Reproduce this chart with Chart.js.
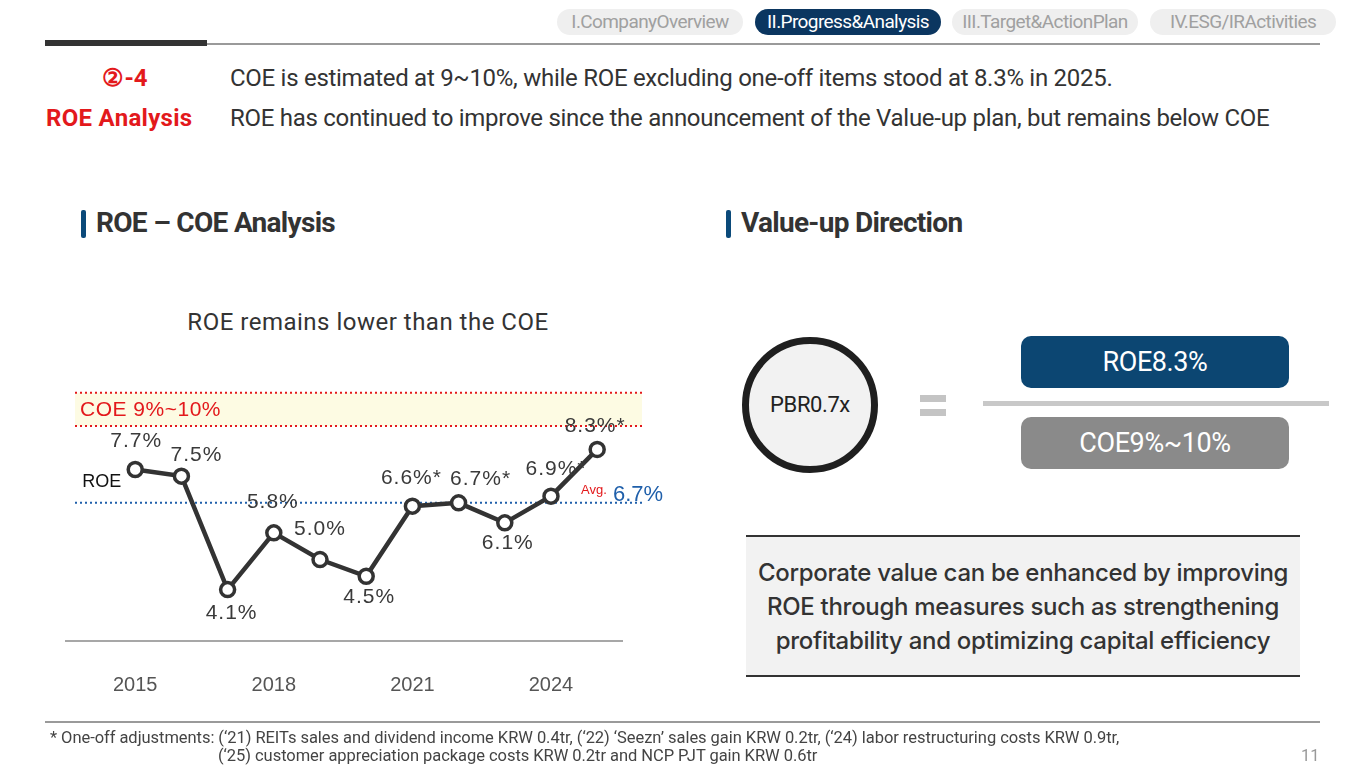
<!DOCTYPE html>
<html>
<head>
<meta charset="utf-8">
<script src="https://cdn.jsdelivr.net/npm/chart.js@4"></script>
<style>
  body { margin: 0; width: 1365px; height: 768px; background: #fff; position: relative; overflow: hidden; font-family: Roboto, "Noto Sans", sans-serif; color: #333; }
  .abs { position: absolute; }
  .pill { position: absolute; top: 9px; height: 26px; width: 186px; border-radius: 13px; background: #efefef; color: #a0a0a0; font-size: 19px; line-height: 26px; text-align: center; letter-spacing: -0.6px; white-space: nowrap; }
  .pill.on { background: #0b3660; color: #fff; }
  .head { font-size: 24px; letter-spacing: -0.28px; color: #333; white-space: nowrap; }
  .red { color: #e3191c; font-weight: 700; }
  .sec { font-size: 28px; font-weight: 700; letter-spacing: -0.7px; color: #333; white-space: nowrap; }
  .secbar { width: 5px; height: 28px; background: #0b4a7a; border-radius: 2px; }
  .box { border-radius: 10px; color: #fff; font-size: 27px; letter-spacing: -0.4px; text-align: center; line-height: 52px; width: 268px; height: 52px; left: 1021px; }
  .note { font-size: 16.5px; color: #444; white-space: nowrap; letter-spacing: -0.05px; }
</style>
</head>
<body>

<div class="pill" style="left:557px">I.CompanyOverview</div>
<div class="pill on" style="left:755px">II.Progress&amp;Analysis</div>
<div class="pill" style="left:952px">III.Target&amp;ActionPlan</div>
<div class="pill" style="left:1150px">IV.ESG/IRActivities</div>

<div class="abs" style="left:207px; top:43px; width:1113px; height:2px; background:#9a9a9a"></div>
<div class="abs" style="left:45px; top:40px; width:162px; height:6px; background:#333"></div>

<div class="abs red" style="left:80px; top:64px; width:90px; text-align:center; font-size:24px">②-4</div>
<div class="abs red" style="left:46px; top:104px; font-size:24px; letter-spacing:0.3px">ROE Analysis</div>
<div class="abs head" style="left:230px; top:64px">COE is estimated at 9~10%, while ROE excluding one-off items stood at 8.3% in 2025.</div>
<div class="abs head" style="left:230px; top:104px">ROE has continued to improve since the announcement of the Value-up plan, but remains below COE</div>

<div class="abs secbar" style="left:81px; top:210px"></div>
<div class="abs sec" style="left:96px; top:206px">ROE – COE Analysis</div>
<div class="abs secbar" style="left:726px; top:210px"></div>
<div class="abs sec" style="left:741px; top:206px">Value-up Direction</div>

<div class="abs" style="left:118px; top:308px; width:500px; text-align:center; font-size:24px; letter-spacing:0.5px; color:#333">ROE remains lower than the COE</div>

<canvas id="roeChart" class="abs" width="700" height="400" style="left:0; top:340px"></canvas>

<!-- Value-up direction -->
<div class="abs" style="left:742px; top:337px; width:122px; height:122px; border:7px solid #1f1f1f; border-radius:50%; background:#f2f2f2; text-align:center; line-height:122px; font-size:22px; letter-spacing:-0.4px; color:#222">PBR0.7x</div>
<div class="abs" style="left:920px; top:395px; width:26px; height:7px; background:#c4c4c4"></div>
<div class="abs" style="left:920px; top:409px; width:26px; height:7px; background:#c4c4c4"></div>
<div class="abs" style="left:983px; top:401px; width:346px; height:5px; background:#c8c8c8"></div>
<div class="abs box" style="top:336px; background:#0c4672">ROE8.3%</div>
<div class="abs box" style="top:417px; background:#8a8a8a">COE9%~10%</div>

<div class="abs" style="left:746px; top:535px; width:554px; height:142px; background:#f2f2f2; border-top:2px solid #333; border-bottom:2px solid #333; font-family:Inter, sans-serif; font-size:24px; font-weight:500; color:#333; text-align:center; line-height:34px; letter-spacing:-0.3px; box-sizing:border-box">
  <div style="padding-top:19px">Corporate value can be enhanced by improving<br>ROE through measures such as strengthening<br>profitability and optimizing capital efficiency</div>
</div>

<div class="abs" style="left:45px; top:721px; width:1275px; height:2px; background:#9a9a9a"></div>
<div class="abs note" style="left:50px; top:728px">* One-off adjustments: (‘21) REITs sales and dividend income KRW 0.4tr, (‘22) ‘Seezn’ sales gain KRW 0.2tr, (‘24) labor restructuring costs KRW 0.9tr,</div>
<div class="abs note" style="left:218px; top:746px">(‘25) customer appreciation package costs KRW 0.2tr and NCP PJT gain KRW 0.6tr</div>
<div class="abs note" style="left:1301px; top:746px; color:#999">11</div>

<script>
// ============================================================
// DATA
// ============================================================
const years = [2015, 2016, 2017, 2018, 2019, 2020, 2021, 2022, 2023, 2024, 2025];
const roeValues = [7.7, 7.5, 4.1, 5.8, 5.0, 4.5, 6.6, 6.7, 6.1, 6.9, 8.3];
const oneOffYears = [2021, 2022, 2024, 2025];   // marked with *
const xTickYears = [2015, 2018, 2021, 2024];
const coeRange = [9, 10];
const roeAverage = 6.7;

// label nudges relative to each point (px)
const labelOffsets = [[1, -30], [15, -23], [4, 22], [-1, -32], [0, -32], [3, 19],
                      [-1, -30], [22, -25], [3, 19], [5, -29], [-2, -25]];

const colors = {
    line: '#333333',
    red: '#e3191c',
    blue: '#1f5faa',
    band: '#fdfbe3',
    axis: '#8a8a8a'
};

const FONT = '"Liberation Sans", Arial, sans-serif';

// ============================================================
// OVERLAY PLUGIN: COE band, average line, labels
// ============================================================
const overlay = {
    id: 'overlay',
    beforeDatasetsDraw(chart) {
        const { ctx, chartArea: a, scales: { x, y } } = chart;
        const yHi = y.getPixelForValue(coeRange[1]);
        const yLo = y.getPixelForValue(coeRange[0]);
        const yAvg = y.getPixelForValue(roeAverage);
        const left = a.left + 10;

        ctx.save();
        ctx.fillStyle = colors.band;
        ctx.fillRect(left, yHi, a.right - left, yLo - yHi);

        ctx.lineWidth = 2;
        ctx.setLineDash([2, 3]);
        ctx.strokeStyle = colors.red;
        [yHi, yLo].forEach(py => {
            ctx.beginPath(); ctx.moveTo(left, py); ctx.lineTo(a.right, py); ctx.stroke();
        });
        ctx.strokeStyle = colors.blue;
        ctx.beginPath(); ctx.moveTo(left, yAvg); ctx.lineTo(a.right, yAvg); ctx.stroke();

        // base line
        ctx.setLineDash([]);
        ctx.lineWidth = 1.5;
        ctx.strokeStyle = colors.axis;
        ctx.beginPath(); ctx.moveTo(a.left, a.bottom - 2); ctx.lineTo(a.right - 19, a.bottom - 2); ctx.stroke();

        // COE label
        ctx.fillStyle = colors.red;
        ctx.letterSpacing = '0.5px';
        ctx.font = '21px ' + FONT;
        ctx.textBaseline = 'alphabetic';
        ctx.fillText('COE 9%~10%', a.left + 15, (yHi + yLo) / 2 + 7);

        // Avg label
        ctx.letterSpacing = '0px';
        ctx.font = '13px ' + FONT;
        ctx.fillText('Avg.', a.right - 61, yAvg - 9);
        ctx.fillStyle = colors.blue;
        ctx.font = '22px ' + FONT;
        ctx.fillText(roeAverage.toFixed(1) + '%', a.right - 29, yAvg - 2);
        ctx.restore();
    },
    afterDatasetsDraw(chart) {
        const { ctx, scales: { x, y } } = chart;
        ctx.save();
        ctx.fillStyle = '#3a3a3a';
        ctx.letterSpacing = '1px';
        ctx.font = '21px ' + FONT;
        ctx.textAlign = 'center';
        ctx.textBaseline = 'alphabetic';
        years.forEach((yr, i) => {
            const px = x.getPixelForValue(yr);
            const py = y.getPixelForValue(roeValues[i]);
            const txt = roeValues[i].toFixed(1) + '%' + (oneOffYears.includes(yr) ? '*' : '');
            ctx.fillText(txt, px + labelOffsets[i][0], py + labelOffsets[i][1] + 7.5);
        });

        // series name
        ctx.letterSpacing = '0px';
        ctx.textAlign = 'right';
        ctx.fillStyle = '#111';
        ctx.font = '18px ' + FONT;
        ctx.fillText('ROE', x.getPixelForValue(years[0]) - 14, y.getPixelForValue(roeValues[0]) + 18);
        ctx.restore();
    }
};

// ============================================================
// CHART
// ============================================================
new Chart(document.getElementById('roeChart'), {
    type: 'line',
    data: {
        datasets: [{
            label: 'ROE',
            data: years.map((yr, i) => ({ x: yr, y: roeValues[i] })),
            borderColor: colors.line,
            borderWidth: 4.5,
            pointRadius: 7,
            pointBorderWidth: 3.5,
            pointBackgroundColor: '#ffffff',
            pointBorderColor: colors.line,
            tension: 0
        }]
    },
    options: {
        responsive: false,
        animation: false,
        layout: { padding: { left: 65, right: 58, top: 36, bottom: 13 } },
        plugins: { legend: { display: false }, tooltip: { enabled: false } },
        scales: {
            x: {
                type: 'linear',
                min: 2013.48,
                max: 2025.97,
                grid: { display: false, drawTicks: false },
                border: { display: false },
                afterBuildTicks: scale => { scale.ticks = xTickYears.map(v => ({ value: v })); },
                ticks: {
                    padding: 30,
                    autoSkip: false,
                    maxRotation: 0,
                    color: '#555',
                    font: { family: FONT, size: 20 },
                    callback: v => String(v)
                }
            },
            y: {
                display: false,
                min: 2.5,
                max: 10.5
            }
        }
    },
    plugins: [overlay]
});
</script>
</body>
</html>
